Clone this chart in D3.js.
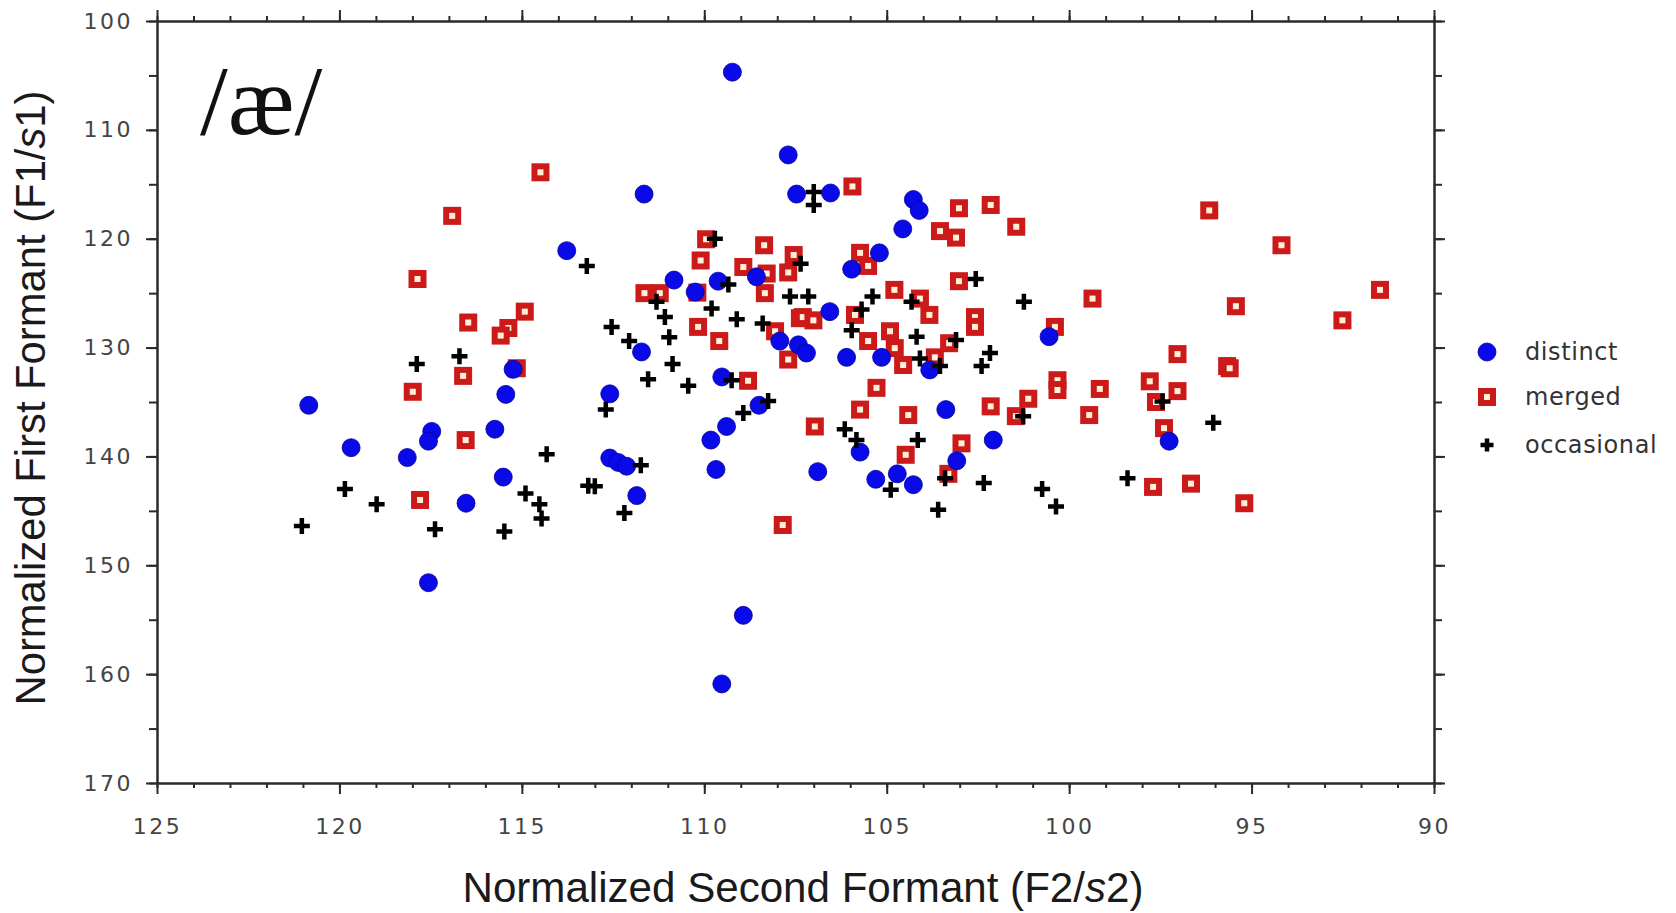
<!DOCTYPE html>
<html>
<head>
<meta charset="utf-8">
<script src="https://cdn.jsdelivr.net/npm/d3@7"></script>
<style>
  html, body { margin: 0; padding: 0; background: #ffffff; }
  svg { display: block; }
</style>
</head>
<body>
<svg id="chart" width="1676" height="913"></svg>
<script>
// ---------------- DATA ([F2/s2, F1/s1]) ----------------
const seriesNames = ["distinct", "merged", "occasional"];

const distinct = [
  [109.23,104.7],[107.7,112.3],[107.47,115.9],[106.54,115.8],[104.27,116.4],[104.11,117.4],
  [104.56,119.1],[111.65,115.9],[113.77,121.1],[105.2,121.3],[105.96,122.8],[110.83,123.8],
  [109.62,123.9],[108.57,123.5],[110.25,124.9],[111.72,130.4],[109.52,132.7],[108.5,135.3],
  [112.59,134.25],[109.39,137.25],[109.82,138.5],[109.68,141.2],[112.59,140.15],[112.36,140.55],
  [112.13,140.9],[111.85,143.6],[106.89,141.4],[107.93,129.4],[107.42,129.75],[107.2,130.5],
  [106.56,126.7],[106.1,130.9],[105.14,130.9],[103.82,132.05],[103.38,135.7],[105.73,139.6],
  [102.08,138.5],[103.08,140.4],[105.3,142.1],[104.71,141.6],[104.27,142.6],[100.55,129.0],
  [97.26,138.6],[115.24,132.0],[115.44,134.3],[120.84,135.3],[117.47,137.7],[117.56,138.6],
  [115.74,137.5],[119.68,139.2],[118.14,140.1],[115.51,141.9],[116.53,144.3],[117.56,151.6],
  [108.93,154.6],[109.52,160.9]
];

const merged = [
  [105.94,115.2],[103.02,117.2],[102.15,116.9],[101.45,118.9],[103.54,119.3],[103.1,119.9],
  [109.95,120.05],[110.1,122.0],[108.36,120.6],[107.55,121.5],[105.73,121.3],[105.51,122.5],
  [103.02,123.9],[96.16,117.4],[94.18,120.6],[114.49,113.9],[116.91,117.9],[117.86,123.7],
  [116.47,127.7],[114.92,126.7],[115.37,128.2],[115.58,128.9],[116.61,132.6],[115.14,131.9],
  [117.99,134.06],[116.54,138.5],[117.79,144.0],[99.36,125.5],[95.43,126.2],[91.48,124.7],
  [92.51,127.5],[100.39,128.1],[97.03,130.6],[95.67,131.7],[95.6,131.9],[100.32,133.0],
  [100.32,133.9],[99.16,133.8],[101.12,134.7],[101.46,136.3],[99.45,136.2],[97.79,133.1],
  [97.03,134.0],[97.62,135.0],[97.4,137.4],[97.7,142.8],[96.66,142.5],[95.2,144.3],
  [108.93,122.6],[108.29,123.2],[107.7,123.1],[111.64,125.0],[111.22,125.0],[110.19,124.95],
  [108.34,125.0],[110.17,128.1],[109.59,129.4],[108.8,133.05],[107.85,146.3],[106.97,137.25],
  [107.38,127.3],[107.3,127.2],[107.01,127.5],[108.06,128.5],[107.7,131.1],[105.87,127.0],
  [104.79,124.7],[104.09,125.5],[103.83,127.0],[102.58,127.2],[102.58,128.1],[105.51,129.4],
  [104.91,128.5],[104.78,130.05],[104.55,131.6],[103.68,130.9],[103.29,129.6],[105.28,133.7],
  [105.73,135.7],[104.41,136.2],[102.15,135.4],[102.95,138.8],[104.48,139.85],[103.31,141.6]
];

const occasional = [
  [107.0,115.7],[107.0,116.9],[109.71,120.0],[107.36,122.3],[113.22,122.5],[102.56,123.7],
  [116.71,130.8],[117.88,131.5],[114.32,139.8],[119.85,143.0],[118.98,144.4],[114.9,143.4],
  [114.52,144.4],[114.46,145.7],[121.03,146.4],[117.38,146.7],[115.48,146.9],[113.18,142.7],
  [101.24,125.8],[97.44,134.95],[96.05,136.9],[98.4,142.0],[100.74,143.0],[100.36,144.6],
  [111.31,125.8],[109.34,124.2],[109.8,126.4],[111.08,127.2],[112.54,128.1],[109.11,127.4],
  [110.96,129.05],[112.06,129.4],[110.87,131.5],[111.54,132.9],[110.44,133.5],[109.25,133.0],
  [112.7,135.7],[108.25,134.9],[108.93,136.0],[111.74,140.8],[113.0,142.75],[112.19,145.2],
  [107.65,125.3],[107.15,125.3],[108.4,127.8],[105.69,126.5],[105.96,128.4],[105.39,125.3],
  [104.32,125.8],[102.17,130.5],[102.4,131.7],[104.18,129.0],[104.09,131.0],[103.1,129.3],
  [103.54,131.7],[106.15,137.5],[105.83,138.5],[104.15,138.5],[103.4,142.0],[104.89,143.05],
  [102.34,142.45],[103.59,144.9],[101.26,136.3]
];

const xMajorTicks = [125, 120, 115, 110, 105, 100, 95, 90];
const xMinorTicks = d3.range(90, 126, 1);
const yMajorTicks = [100, 110, 120, 130, 140, 150, 160, 170];
const yMinorTicks = d3.range(100, 171, 5);

const xTitle = "Normalized Second Formant (F2/";
const yTitle = "Normalized First Formant (F1/";
const vowelLabel = "/æ/";

// ---------------- LAYOUT ----------------
const svg = d3.select("#chart");
const L = 157, R = 1434, T = 21, B = 783;

const x = d3.scaleLinear().domain([125, 90]).range([L, R]);
const y = d3.scaleLinear().domain([100, 170]).range([T, B]);

const axisColor = "#2a2a2a";
const tickFont = "'DejaVu Sans', sans-serif";

function styleAxis(g) {
  g.selectAll("path.domain").attr("stroke", axisColor).attr("stroke-width", 2);
  g.selectAll(".tick line").attr("stroke", axisColor).attr("stroke-width", 2);
  g.selectAll("text").attr("fill", "#444")
    .style("font-family", tickFont).style("font-size", "22px").style("letter-spacing", "2.5px");
}

// bottom
svg.append("g").attr("transform", `translate(0,${B})`)
  .call(d3.axisBottom(x).tickValues(xMinorTicks).tickSize(5).tickSizeOuter(0).tickFormat(""))
  .call(styleAxis);
svg.append("g").attr("transform", `translate(0,${B})`)
  .call(d3.axisBottom(x).tickValues(xMajorTicks).tickSize(11).tickSizeOuter(0).tickPadding(24).tickFormat(d3.format("d")))
  .call(styleAxis);
// top
svg.append("g").attr("transform", `translate(0,${T})`)
  .call(d3.axisTop(x).tickValues(xMinorTicks).tickSize(5).tickSizeOuter(0).tickFormat(""))
  .call(styleAxis);
svg.append("g").attr("transform", `translate(0,${T})`)
  .call(d3.axisTop(x).tickValues(xMajorTicks).tickSize(11).tickSizeOuter(0).tickFormat(""))
  .call(styleAxis);
// left
svg.append("g").attr("transform", `translate(${L},0)`)
  .call(d3.axisLeft(y).tickValues(yMinorTicks).tickSize(8).tickSizeOuter(0).tickFormat(""))
  .call(styleAxis);
svg.append("g").attr("transform", `translate(${L},0)`)
  .call(d3.axisLeft(y).tickValues(yMajorTicks).tickSize(11).tickSizeOuter(0).tickPadding(13).tickFormat(d3.format("d")))
  .call(styleAxis);
// right
svg.append("g").attr("transform", `translate(${R},0)`)
  .call(d3.axisRight(y).tickValues(yMinorTicks).tickSize(8).tickSizeOuter(0).tickFormat(""))
  .call(styleAxis);
svg.append("g").attr("transform", `translate(${R},0)`)
  .call(d3.axisRight(y).tickValues(yMajorTicks).tickSize(11).tickSizeOuter(0).tickFormat(""))
  .call(styleAxis);

// ---------------- MARKS ----------------
const circleColor = "#0a0ae8";
const squareStroke = "#cc1a1a";
const squareFill = "#fff0d8";

function drawSquare(sel) {
  sel.append("rect")
    .attr("width", 12).attr("height", 12)
    .attr("x", -6).attr("y", -6)
    .attr("fill", squareFill).attr("stroke", squareStroke).attr("stroke-width", 6);
}
function drawCircle(sel) {
  sel.append("circle").attr("r", 9).attr("fill", circleColor).attr("stroke", "#0000a0").attr("stroke-width", 0.8);
}
function drawCross(sel, s = 8) {
  sel.append("path").attr("d", `M${-s},0H${s}M0,${-s}V${s}`)
    .attr("stroke", "#000").attr("stroke-width", 4.5).attr("fill", "none");
}

const marks = svg.append("g");
marks.append("g").selectAll("g").data(merged).join("g")
  .attr("transform", d => `translate(${x(d[0])},${y(d[1])})`).call(drawSquare);
marks.append("g").selectAll("g").data(distinct).join("g")
  .attr("transform", d => `translate(${x(d[0])},${y(d[1])})`).call(drawCircle);
marks.append("g").selectAll("g").data(occasional).join("g")
  .attr("transform", d => `translate(${x(d[0])},${y(d[1])})`).call(g => drawCross(g, 8));

// ---------------- TEXT ----------------
svg.append("text")
  .attr("x", 200).attr("y", 134)
  .style("font-family", "'Liberation Serif', 'Times New Roman', serif")
  .style("font-size", "100px").attr("fill", "#111")
  .text(vowelLabel);

const xt = svg.append("text")
  .attr("x", 803).attr("y", 902).attr("text-anchor", "middle")
  .style("font-family", "'Liberation Sans', Arial, sans-serif").style("font-size", "42px")
  .attr("fill", "#1a1a1a")
  .attr("textLength", 681).attr("lengthAdjust", "spacingAndGlyphs");
xt.append("tspan").text(xTitle);
xt.append("tspan").style("font-style", "italic").text("s");
xt.append("tspan").text("2)");

const yt = svg.append("text")
  .attr("transform", "translate(45,398) rotate(-90)").attr("text-anchor", "middle")
  .style("font-family", "'Liberation Sans', Arial, sans-serif").style("font-size", "42px")
  .attr("fill", "#1a1a1a")
  .attr("textLength", 615).attr("lengthAdjust", "spacingAndGlyphs");
yt.append("tspan").text(yTitle);
yt.append("tspan").style("font-style", "italic").text("s");
yt.append("tspan").text("1)");

// ---------------- LEGEND ----------------
const legend = svg.append("g");
const legendY = [352, 397, 445];
const drawers = [drawCircle, drawSquare, g => drawCross(g, 6.5)];
seriesNames.forEach((name, i) => {
  const g = legend.append("g").attr("transform", `translate(1487,${legendY[i]})`);
  drawers[i](g);
  legend.append("text")
    .attr("x", 1525).attr("y", legendY[i]).attr("dy", "0.35em")
    .style("font-family", tickFont).style("font-size", "24px").style("letter-spacing", "0.6px")
    .attr("fill", "#333")
    .text(name);
});
</script>
</body>
</html>
